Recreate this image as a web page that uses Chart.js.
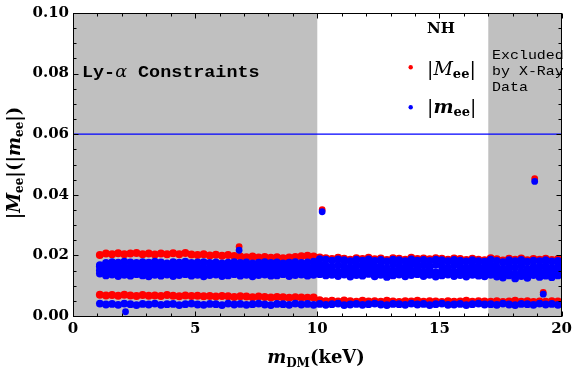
<!DOCTYPE html>
<html><head><meta charset="utf-8">
<script src="https://cdn.jsdelivr.net/npm/chart.js@4.4.1/dist/chart.umd.min.js"></script>
<style>html,body{margin:0;padding:0;background:#fff;}canvas{display:block;}</style>
</head><body>
<canvas id="c" width="576" height="376" style="width:576px;height:376px"></canvas>
<script>
// ---------- data ----------
const mDM = [1.10,1.35,1.60,1.85,2.10,2.35,2.60,2.85,3.10,3.35,
 3.60,3.85,4.10,4.35,4.60,4.85,5.10,5.35,5.60,5.85,
 6.10,6.35,6.60,6.85,7.10,7.35,7.60,7.85,8.10,8.35,
 8.60,8.85,9.10,9.35,9.60,9.85,10.10,10.35,10.60,10.85,
 11.10,11.35,11.60,11.85,12.10,12.35,12.60,12.85,13.10,13.35,
 13.60,13.85,14.10,14.35,14.60,14.85,15.10,15.35,15.60,15.85,
 16.10,16.35,16.60,16.85,17.10,17.35,17.60,17.85,18.10,18.35,
 18.60,18.85,19.10,19.35,19.60,19.85];

// |M_ee| (red), upper and lower branches
const MeeUp = [0.0201,0.0206,0.0204,0.0207,0.0204,0.0206,0.0208,0.0204,0.0206,0.0203,
 0.0206,0.0204,0.0207,0.0204,0.0208,0.0203,0.0201,0.0204,0.0200,0.0202,
 0.0199,0.0201,0.0198,0.0196,0.0194,0.0196,0.0193,0.0195,0.0192,0.0194,
 0.0191,0.0193,0.0195,0.0197,0.0199,0.0196,0.0193,0.0191,0.0188,0.0192,
 0.0189,0.0186,0.0191,0.0188,0.0192,0.0187,0.0190,0.0185,0.0191,0.0189,
 0.0186,0.0192,0.0188,0.0190,0.0187,0.0191,0.0189,0.0186,0.0190,0.0188,
 0.0185,0.0189,0.0186,0.0184,0.0191,0.0187,0.0183,0.0189,0.0186,0.0190,
 0.0184,0.0188,0.0186,0.0189,0.0185,0.0187];
const MeeLow = [0.0070,0.0068,0.0069,0.0067,0.0070,0.0068,0.0066,0.0069,0.0067,0.0068,
 0.0066,0.0069,0.0067,0.0065,0.0068,0.0066,0.0067,0.0065,0.0066,0.0064,
 0.0066,0.0065,0.0063,0.0065,0.0064,0.0062,0.0064,0.0063,0.0061,0.0063,
 0.0062,0.0060,0.0062,0.0061,0.0060,0.0061,0.0052,0.0049,0.0050,0.0048,
 0.0051,0.0049,0.0047,0.0050,0.0048,0.0049,0.0047,0.0050,0.0048,0.0046,
 0.0049,0.0048,0.0050,0.0047,0.0049,0.0048,0.0046,0.0049,0.0047,0.0048,
 0.0050,0.0047,0.0049,0.0048,0.0047,0.0049,0.0046,0.0048,0.0050,0.0047,
 0.0049,0.0046,0.0048,0.0047,0.0049,0.0048];
const MeeOutX = [6.80, 10.20, 18.90, 19.25];
const MeeOutY = [0.0229, 0.0351, 0.0453, 0.0078];

// |m_ee| (blue), upper branch (four layers through the band) and lower branch
const meeUpA = [0.0168,0.0175,0.0178,0.0176,0.0179,0.0177,0.0175,0.0178,0.0176,0.0179,
 0.0177,0.0174,0.0178,0.0176,0.0179,0.0175,0.0177,0.0178,0.0175,0.0177,
 0.0174,0.0176,0.0178,0.0175,0.0177,0.0174,0.0176,0.0178,0.0175,0.0177,
 0.0174,0.0176,0.0178,0.0175,0.0177,0.0179,0.0188,0.0186,0.0183,0.0187,
 0.0184,0.0181,0.0186,0.0183,0.0187,0.0182,0.0185,0.0180,0.0186,0.0184,
 0.0181,0.0187,0.0183,0.0185,0.0182,0.0186,0.0184,0.0181,0.0185,0.0183,
 0.0180,0.0184,0.0181,0.0179,0.0186,0.0182,0.0178,0.0184,0.0181,0.0185,
 0.0179,0.0183,0.0181,0.0184,0.0180,0.0182];
const meeUpB = [0.0164,0.0160,0.0163,0.0159,0.0162,0.0160,0.0164,0.0161,0.0158,0.0163,
 0.0160,0.0164,0.0159,0.0162,0.0165,0.0160,0.0163,0.0158,0.0162,0.0164,
 0.0159,0.0161,0.0165,0.0160,0.0163,0.0158,0.0162,0.0164,0.0160,0.0161,
 0.0165,0.0159,0.0162,0.0164,0.0160,0.0163,0.0170,0.0166,0.0163,0.0168,
 0.0165,0.0160,0.0169,0.0166,0.0171,0.0163,0.0167,0.0158,0.0169,0.0165,
 0.0161,0.0170,0.0166,0.0168,0.0162,0.0169,0.0165,0.0160,0.0168,0.0166,
 0.0159,0.0167,0.0164,0.0161,0.0168,0.0162,0.0157,0.0166,0.0160,0.0167,
 0.0156,0.0164,0.0161,0.0166,0.0158,0.0165];
const meeUpC = [0.0151,0.0147,0.0150,0.0145,0.0149,0.0146,0.0150,0.0147,0.0144,0.0149,
 0.0146,0.0150,0.0145,0.0148,0.0151,0.0146,0.0149,0.0144,0.0148,0.0150,
 0.0145,0.0147,0.0151,0.0146,0.0149,0.0144,0.0148,0.0150,0.0146,0.0147,
 0.0151,0.0145,0.0148,0.0150,0.0146,0.0149,0.0153,0.0149,0.0151,0.0147,
 0.0152,0.0145,0.0150,0.0148,0.0154,0.0146,0.0151,0.0143,0.0149,0.0152,
 0.0146,0.0150,0.0153,0.0147,0.0151,0.0144,0.0149,0.0152,0.0147,0.0150,
 0.0144,0.0151,0.0148,0.0145,0.0150,0.0144,0.0140,0.0148,0.0138,0.0146,
 0.0141,0.0149,0.0143,0.0147,0.0142,0.0148];
const meeUpD = [0.0140,0.0134,0.0137,0.0132,0.0136,0.0133,0.0138,0.0134,0.0131,0.0136,
 0.0133,0.0137,0.0132,0.0135,0.0138,0.0133,0.0136,0.0131,0.0135,0.0137,
 0.0132,0.0134,0.0138,0.0133,0.0136,0.0131,0.0135,0.0137,0.0133,0.0134,
 0.0138,0.0132,0.0135,0.0137,0.0133,0.0136,0.0138,0.0134,0.0136,0.0132,
 0.0137,0.0130,0.0135,0.0133,0.0139,0.0131,0.0136,0.0129,0.0134,0.0137,
 0.0131,0.0135,0.0138,0.0132,0.0136,0.0130,0.0134,0.0137,0.0132,0.0135,
 0.0130,0.0136,0.0133,0.0131,0.0136,0.0130,0.0127,0.0134,0.0124,0.0132,
 0.0126,0.0135,0.0129,0.0133,0.0128,0.0134];
const meeLow = [0.0041,0.0038,0.0040,0.0037,0.0041,0.0039,0.0036,0.0040,0.0038,0.0041,
 0.0037,0.0039,0.0040,0.0036,0.0039,0.0041,0.0038,0.0037,0.0040,0.0039,
 0.0036,0.0041,0.0038,0.0040,0.0037,0.0039,0.0041,0.0038,0.0036,0.0040,
 0.0039,0.0037,0.0041,0.0038,0.0040,0.0037,0.0040,0.0037,0.0039,0.0041,
 0.0036,0.0038,0.0040,0.0037,0.0039,0.0041,0.0038,0.0036,0.0040,0.0039,
 0.0037,0.0041,0.0038,0.0040,0.0036,0.0039,0.0041,0.0037,0.0038,0.0040,
 0.0036,0.0039,0.0041,0.0038,0.0039,0.0037,0.0041,0.0038,0.0036,0.0040,
 0.0039,0.0037,0.0041,0.0038,0.0040,0.0037];
const meeOutX = [2.15, 6.80, 10.20, 18.90, 19.25];
const meeOutY = [0.0014, 0.0217, 0.0344, 0.0444, 0.0072];

// limit line and excluded regions
const limitX = [0, 20];
const limitY = [0.06, 0.06];
const excludedRanges = [[0, 10], [17, 20]];
const xTicks = [0, 5, 10, 15, 20];
const yTicks = [0.00, 0.02, 0.04, 0.06, 0.08, 0.10];

// ---------- build ----------
const zip = (xs, ys) => xs.map((x, i) => ({x: x, y: ys[i]}));
const redBand = [].concat(zip(mDM, MeeUp), zip(mDM, MeeLow));
const blueBand = [].concat(zip(mDM, meeUpA), zip(mDM, meeUpB), zip(mDM, meeUpC),
                           zip(mDM, meeUpD), zip(mDM, meeLow));

function drawRuns(ctx, x, y, runs, align) {
  const w = runs.map(r => { ctx.font = r.f; return ctx.measureText(r.t).width * (r.sx || 1); });
  const total = w.reduce((a, b) => a + b, 0);
  let cx = align === 'center' ? x - total / 2 : x;
  runs.forEach((r, i) => {
    ctx.save();
    ctx.font = r.f;
    ctx.translate(cx, y + (r.dy || 0));
    ctx.scale(r.sx || 1, 1);
    ctx.textAlign = 'left';
    ctx.textBaseline = 'alphabetic';
    ctx.fillText(r.t, 0, 0);
    ctx.restore();
    cx += w[i];
  });
}

const deco = {
  id: 'deco',
  beforeDatasetsDraw(chart) {
    const {ctx, chartArea: a, scales: {x}} = chart;
    ctx.save();
    ctx.fillStyle = '#c0c0c0';
    for (const [lo, hi] of excludedRanges) {
      const x0 = x.getPixelForValue(lo), x1 = x.getPixelForValue(hi);
      ctx.fillRect(x0, a.top, x1 - x0, a.bottom - a.top);
    }
    ctx.restore();
  },
  afterDraw(chart) {
    const {ctx, chartArea: a, scales: {x, y}} = chart;
    ctx.save();
    ctx.strokeStyle = '#000';
    ctx.lineWidth = 1;
    const L = Math.round(a.left) + 0.5, R = Math.round(a.right) - 0.5;
    const T = Math.round(a.top) + 0.5, B = Math.round(a.bottom) + 0.5;
    ctx.strokeRect(L, T, R - L, B - T);
    ctx.beginPath();
    for (let k = 0; k <= 20; k++) {
      const py = Math.round(y.getPixelForValue(k * 0.005)) + 0.5;
      const len = k % 4 === 0 ? 5 : 3;
      ctx.moveTo(L, py); ctx.lineTo(L + len, py);
      ctx.moveTo(R, py); ctx.lineTo(R - len, py);
    }
    for (let k = 0; k <= 20; k++) {
      const px = Math.round(x.getPixelForValue(k)) + 0.5;
      const len = k % 5 === 0 ? 5 : 3;
      ctx.moveTo(px, B); ctx.lineTo(px, B - len);
      ctx.moveTo(px, T); ctx.lineTo(px, T + len);
    }
    ctx.stroke();

    ctx.fillStyle = '#000';
    drawRuns(ctx, 316, 363, [
      {t: 'm', f: 'italic bold 18px "DejaVu Serif"'},
      {t: 'DM', f: 'bold 12px "DejaVu Serif"', dy: 4},
      {t: '(keV)', f: 'bold 18px "DejaVu Serif"'}
    ], 'center');
    ctx.save();
    ctx.translate(20, 163);
    ctx.rotate(-Math.PI / 2);
    drawRuns(ctx, 0, 0, [
      {t: '|', f: 'bold 18px "DejaVu Serif"'},
      {t: 'M', f: 'italic bold 18px "DejaVu Serif"'},
      {t: 'ee', f: 'bold 12px "DejaVu Serif"', dy: 3},
      {t: '|(|', f: 'bold 18px "DejaVu Serif"'},
      {t: 'm', f: 'italic bold 18px "DejaVu Serif"'},
      {t: 'ee', f: 'bold 12px "DejaVu Serif"', dy: 3},
      {t: '|)', f: 'bold 18px "DejaVu Serif"'}
    ], 'center');
    ctx.restore();

    drawRuns(ctx, 82, 77, [
      {t: 'Ly-', f: 'bold 16px "Liberation Mono"', sx: 1.15},
      {t: 'α', f: 'italic 16px "DejaVu Serif"', sx: 1.1},
      {t: ' Constraints', f: 'bold 16px "Liberation Mono"', sx: 1.15}
    ], 'left');
    const exFont = '13px "Liberation Mono"';
    drawRuns(ctx, 492, 59, [{t: 'Excluded', f: exFont, sx: 1.15}], 'left');
    drawRuns(ctx, 492, 75, [{t: 'by X-Ray', f: exFont, sx: 1.15}], 'left');
    drawRuns(ctx, 492, 91, [{t: 'Data', f: exFont, sx: 1.15}], 'left');
    drawRuns(ctx, 441, 33, [{t: 'NH', f: 'bold 15px "DejaVu Serif"'}], 'center');

    ctx.fillStyle = '#ff0000';
    ctx.beginPath(); ctx.arc(410.7, 67.3, 2.2, 0, Math.PI * 2); ctx.fill();
    ctx.fillStyle = '#0000ff';
    ctx.beginPath(); ctx.arc(410.7, 107.3, 2.2, 0, Math.PI * 2); ctx.fill();
    ctx.fillStyle = '#000';
    drawRuns(ctx, 427, 75, [
      {t: '|', f: '19px "DejaVu Serif"'},
      {t: 'M', f: 'italic 19px "DejaVu Serif"'},
      {t: 'ee', f: 'bold 13px "DejaVu Serif"', dy: 3},
      {t: '|', f: '19px "DejaVu Serif"'}
    ], 'left');
    drawRuns(ctx, 427, 113, [
      {t: '|', f: '19px "DejaVu Serif"'},
      {t: 'm', f: 'italic bold 19px "DejaVu Serif"'},
      {t: 'ee', f: 'bold 13px "DejaVu Serif"', dy: 3},
      {t: '|', f: '19px "DejaVu Serif"'}
    ], 'left');
    ctx.restore();
  }
};

const tickFont = {family: 'DejaVu Serif', weight: 'bold', size: 15};
new Chart(document.getElementById('c'), {
  type: 'scatter',
  data: {
    datasets: [
      {label: 'limit', type: 'line', data: zip(limitX, limitY), borderColor: '#0000ff', borderWidth: 1.2, pointRadius: 0, order: 3},
      {label: '|Mee|', data: redBand, backgroundColor: '#ff0000', borderWidth: 0, pointRadius: 4, order: 2},
      {label: '|Mee| out', data: zip(MeeOutX, MeeOutY), backgroundColor: '#ff0000', borderWidth: 0, pointRadius: 3.4, order: 2},
      {label: '|mee|', data: blueBand, backgroundColor: '#0000ff', borderWidth: 0, pointRadius: 3.9, order: 1},
      {label: '|mee| out', data: zip(meeOutX, meeOutY), backgroundColor: '#0000ff', borderWidth: 0, pointRadius: 3.4, order: 0}
    ]
  },
  options: {
    responsive: false,
    animation: false,
    events: [],
    layout: {padding: {top: 13, right: 12, left: 0, bottom: 0}},
    plugins: {legend: {display: false}, tooltip: {enabled: false}},
    scales: {
      x: {
        type: 'linear', min: 0, max: 20,
        afterBuildTicks: s => { s.ticks = xTicks.map(v => ({value: v})); },
        ticks: {font: tickFont, color: '#000', padding: 4, maxRotation: 0, autoSkip: false,
                callback: v => String(v)},
        grid: {display: false, drawTicks: false},
        border: {display: false},
        afterFit: s => { s.height = 60; }
      },
      y: {
        type: 'linear', min: 0, max: 0.1,
        afterBuildTicks: s => { s.ticks = yTicks.map(v => ({value: v})); },
        ticks: {font: tickFont, color: '#000', padding: 4, autoSkip: false,
                callback: v => Number(v).toFixed(2)},
        grid: {display: false, drawTicks: false},
        border: {display: false},
        afterFit: s => { s.width = 73; }
      }
    }
  },
  plugins: [deco]
});
</script>
</body></html>
